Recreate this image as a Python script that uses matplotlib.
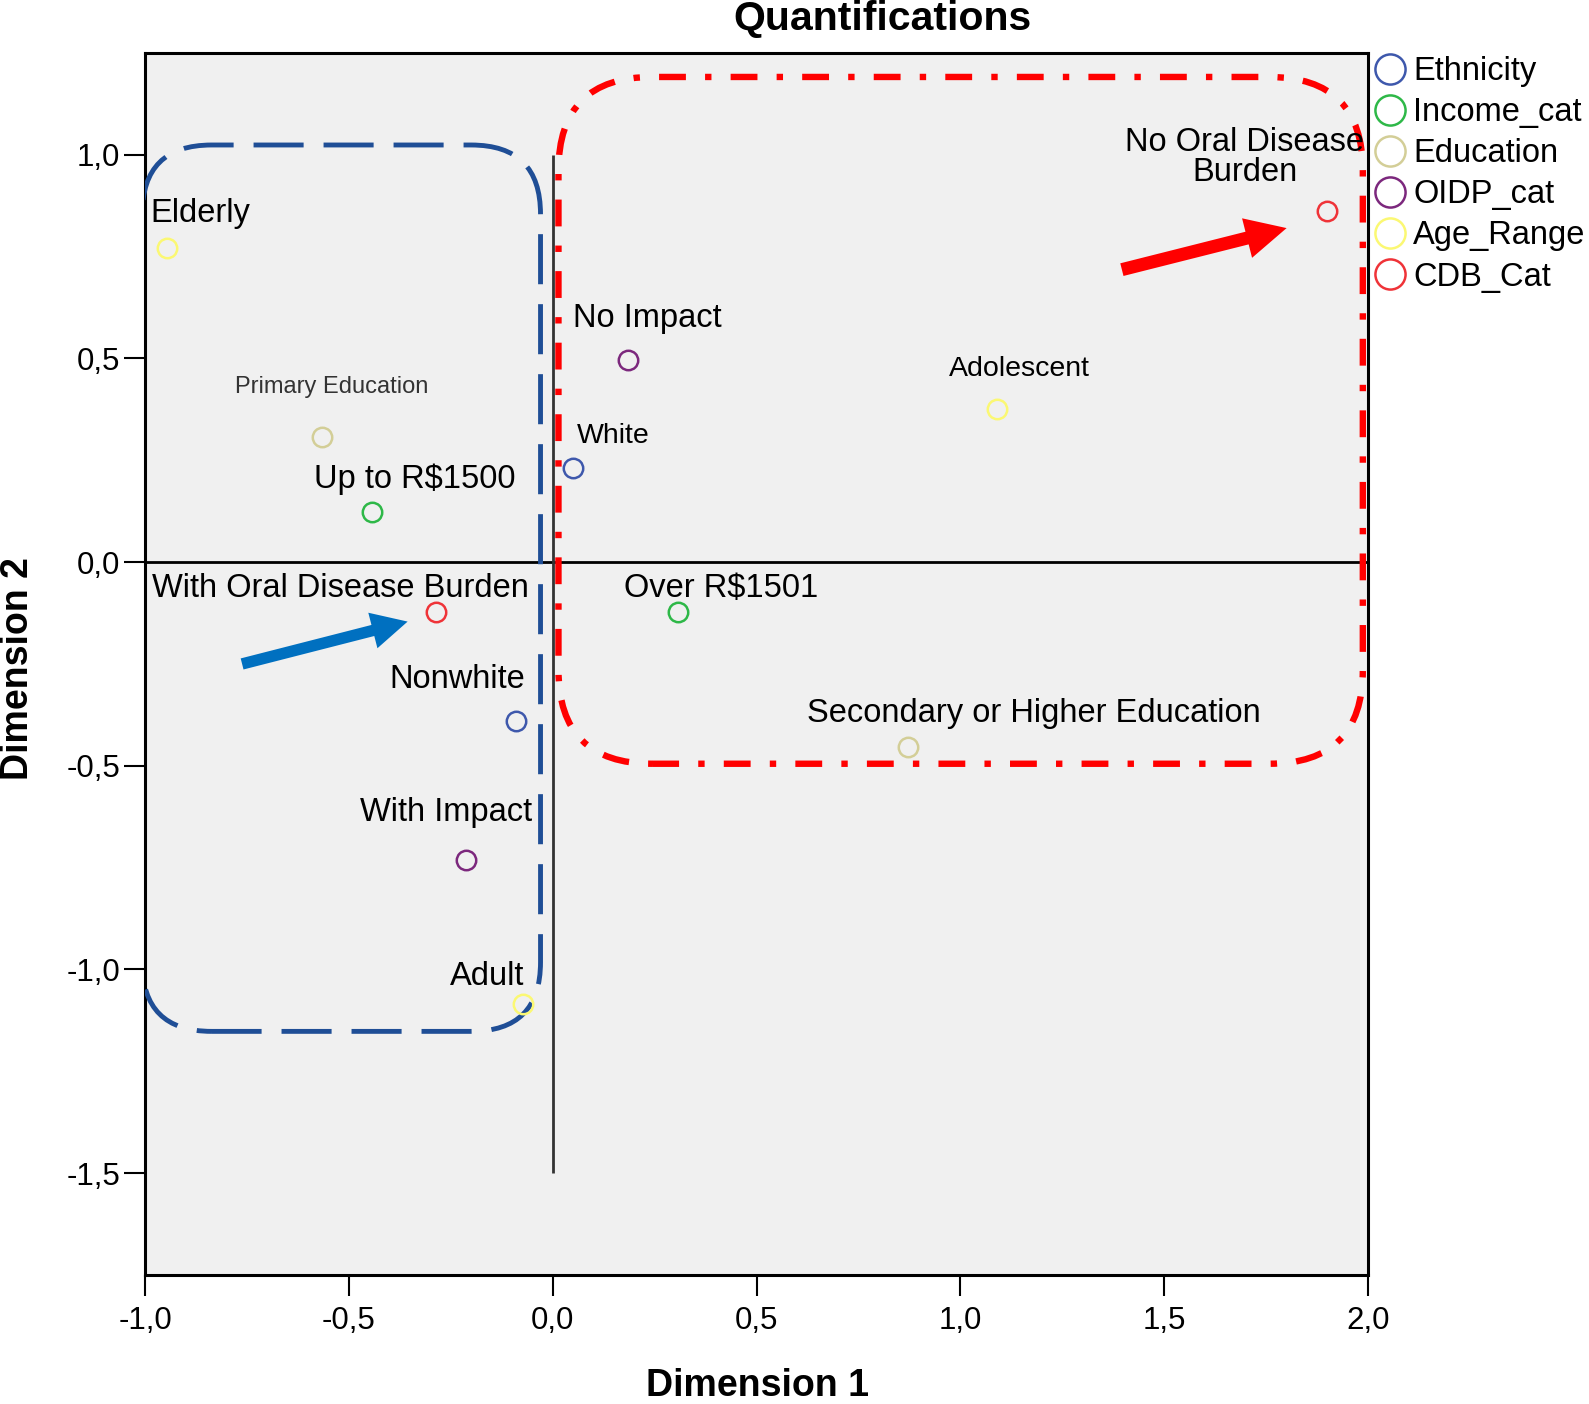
import matplotlib
matplotlib.use('Agg')
import matplotlib.pyplot as plt
from matplotlib.patches import FancyBboxPatch, FancyArrow
from matplotlib.ticker import FuncFormatter

plt.rcParams['font.family'] = ['Liberation Sans', 'DejaVu Sans']

# dados (Dimension 1, Dimension 2)
variaveis = ['Ethnicity', 'Income_cat', 'Education', 'OIDP_cat', 'Age_Range', 'CDB_Cat']
cores = ['#3E58AC', '#2EB848', '#D3CE97', '#7C287D', '#FBF873', '#EF3338']

ethnicity_cat = ['White', 'Nonwhite']
ethnicity_d1 = [0.050, -0.090]
ethnicity_d2 = [0.231, -0.391]

income_cat = ['Up to R$1500', 'Over R$1501']
income_d1 = [-0.443, 0.308]
income_d2 = [0.122, -0.122]

education_cat = ['Primary Education', 'Secondary or Higher Education']
education_d1 = [-0.567, 0.871]
education_d2 = [0.306, -0.453]

oidp_cat = ['No Impact', 'With Impact']
oidp_d1 = [0.184, -0.214]
oidp_d2 = [0.495, -0.731]

age_cat = ['Elderly', 'Adolescent', 'Adult']
age_d1 = [-0.945, 1.090, -0.072]
age_d2 = [0.771, 0.376, -1.086]

cdb_cat = ['With Oral Disease Burden', 'No Oral Disease\nBurden']
cdb_d1 = [-0.286, 1.898]
cdb_d2 = [-0.122, 0.861]

xticks = [-1.0, -0.5, 0.0, 0.5, 1.0, 1.5, 2.0]
yticks = [-1.5, -1.0, -0.5, 0.0, 0.5, 1.0]

# deslocamento dos rotulos (pontos) e estilo
deslocamento = {
    'White': (29, 23, 'center', 20.5),
    'Nonwhite': (-42, 30, 'center', 23.5),
    'Up to R$1500': (31, 24, 'center', 23.5),
    'Over R$1501': (31, 17, 'center', 23.5),
    'Primary Education': (7, 36, 'center', 17),
    'Secondary or Higher Education': (91, 24, 'center', 23.5),
    'No Impact': (14, 30, 'center', 23.5),
    'With Impact': (-14, 34, 'center', 23.5),
    'Elderly': (-12, 25, 'left', 23.5),
    'Adolescent': (16, 29, 'center', 20.5),
    'Adult': (-26, 20, 'center', 23.5),
    'With Oral Disease Burden': (-69, 17, 'center', 23.5),
    'No Oral Disease\nBurden': (-59, 39, 'center', 23.5),
}

grupos = [
    (ethnicity_cat, ethnicity_d1, ethnicity_d2),
    (income_cat, income_d1, income_d2),
    (education_cat, education_d1, education_d2),
    (oidp_cat, oidp_d1, oidp_d2),
    (age_cat, age_d1, age_d2),
    (cdb_cat, cdb_d1, cdb_d2),
]

fig = plt.figure(figsize=(15.89, 14.04), dpi=100)
ax = fig.add_axes([0.0913, 0.0919, 0.7697, 0.8704])
ax.set_facecolor('#F0F0F0')
ax.set_xlim(-1.0, 2.0)
ax.set_ylim(-1.75, 1.25)

# linhas de referencia
ax.axhline(0, color='black', lw=2.0, zorder=2)
ax.vlines(0, yticks[0], yticks[-1], color='#333333', lw=2.0, zorder=2)

# caixas arredondadas
caixa_azul = FancyBboxPatch((-1.007, -1.152), 0.977, 2.176,
                            boxstyle='round,pad=0,rounding_size=0.17',
                            fill=False, edgecolor='#1F4E96', lw=3.5,
                            linestyle=(0, (10.3, 4.1)), zorder=3)
ax.add_patch(caixa_azul)
caixa_vermelha = FancyBboxPatch((0.014, -0.495), 1.973, 1.686,
                                boxstyle='round,pad=0,rounding_size=0.23',
                                fill=False, edgecolor='#FF0000', lw=4.6,
                                linestyle=(0, (4.2, 3.0, 1.0, 3.0)), zorder=3)
ax.add_patch(caixa_vermelha)

# setas
ax.add_patch(FancyArrow(1.396, 0.718, 0.404, 0.102, width=0.032, head_width=0.10,
                        head_length=0.10, length_includes_head=True,
                        color='#FF0000', lw=0, zorder=4))
ax.add_patch(FancyArrow(-0.762, -0.250, 0.406, 0.104, width=0.028, head_width=0.09,
                        head_length=0.088, length_includes_head=True,
                        color='#0070C0', lw=0, zorder=4))

# pontos
for (cats, d1, d2), nome, cor in zip(grupos, variaveis, cores):
    ax.plot(d1, d2, 'o', ms=14, mfc='none', mec=cor, mew=1.8, label=nome, zorder=5)
    for c, x, y in zip(cats, d1, d2):
        dx, dy, ha, fs = deslocamento[c]
        cor_txt = '#333333' if c == 'Primary Education' else 'black'
        ax.annotate(c, (x, y), xytext=(dx, dy), textcoords='offset points',
                    ha=ha, va='center', fontsize=fs, color=cor_txt,
                    linespacing=0.95, zorder=6)

# eixos
fmt = FuncFormatter(lambda v, p: ('%.1f' % v).replace('.', ','))
ax.set_xticks(xticks)
ax.set_yticks(yticks)
ax.xaxis.set_major_formatter(fmt)
ax.yaxis.set_major_formatter(fmt)
ax.tick_params(direction='out', length=15, width=1.5, labelsize=22.5)
ax.tick_params(axis='x', pad=7)
ax.tick_params(axis='y', pad=3)
for s in ax.spines.values():
    s.set_linewidth(2.2)
    s.set_color('black')

fig.text(882 / 1589, 1 - 19 / 1404, 'Quantifications', ha='center', va='center',
         fontsize=29.5, fontweight='bold')
fig.text(758 / 1589, 1 - 1386 / 1404, 'Dimension 1', ha='center', va='center',
         fontsize=27, fontweight='bold')
fig.text(18 / 1589, 1 - 669 / 1404, 'Dimension 2', ha='center', va='center',
         fontsize=27, fontweight='bold', rotation=90)

fig.legend(loc='upper left', bbox_to_anchor=(1374 / 1589, 1 - 56 / 1404),
           frameon=False, fontsize=23.5, markerscale=1.55, handlelength=0.95,
           handletextpad=0.25, labelspacing=0.31, borderpad=0, borderaxespad=0)

fig.savefig('out.png', dpi=100)
